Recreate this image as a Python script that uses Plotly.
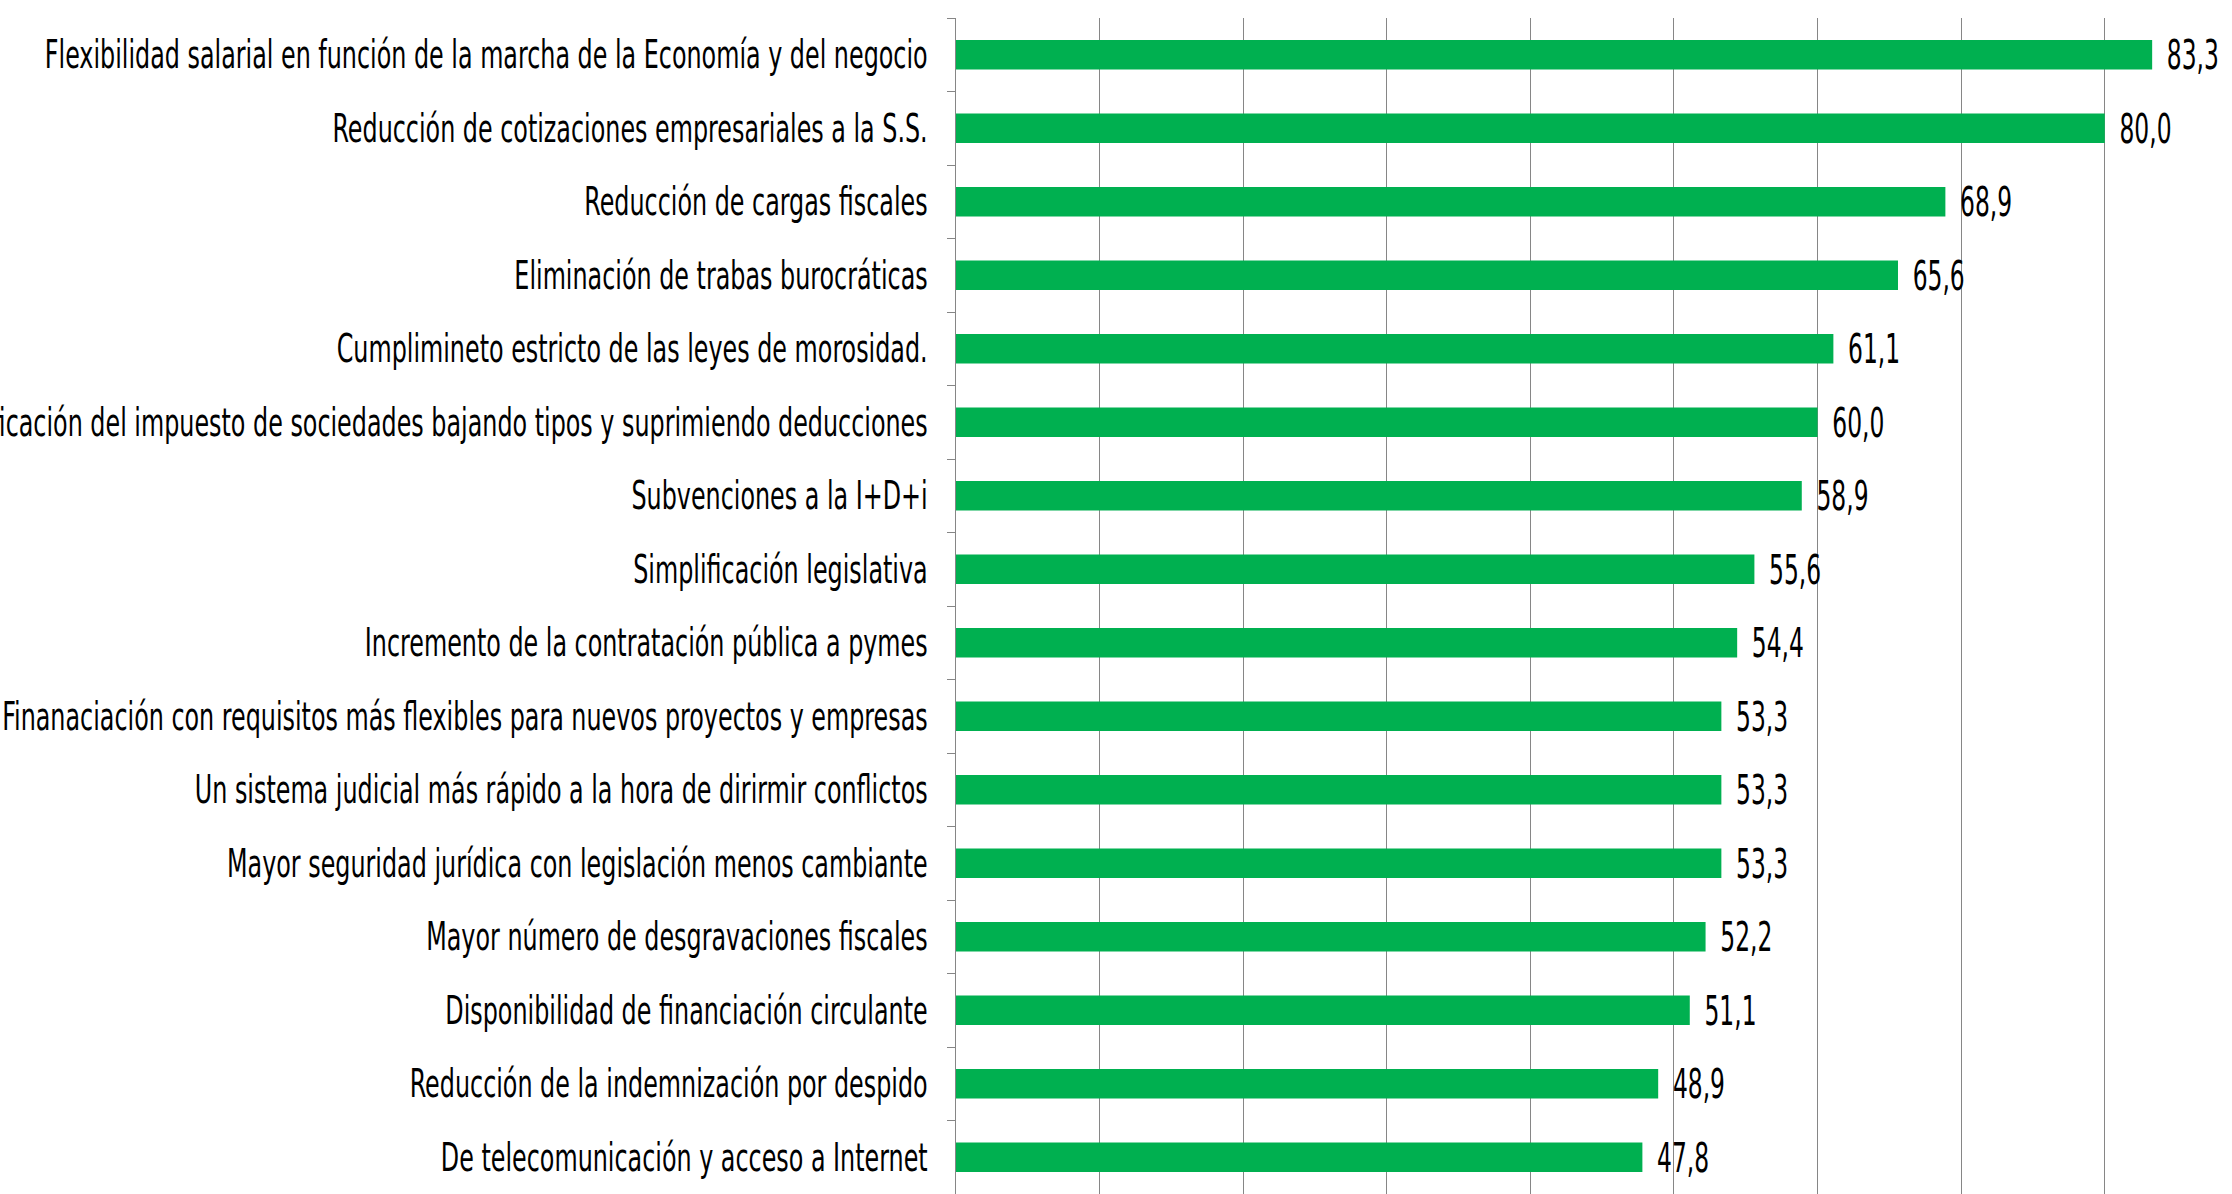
import plotly.graph_objects as go

categories = [
    "Flexibilidad salarial en función de la marcha de la Economía y del negocio",
    "Reducción de cotizaciones empresariales a la S.S.",
    "Reducción de cargas fiscales",
    "Eliminación de trabas burocráticas",
    "Cumplimineto estricto de las leyes de morosidad.",
    "Simplificación del impuesto de sociedades bajando tipos y suprimiendo deducciones",
    "Subvenciones a la I+D+i",
    "Simplificación legislativa",
    "Incremento de la contratación pública a pymes",
    "Finanaciación con requisitos más flexibles para nuevos proyectos y empresas",
    "Un sistema judicial más rápido a la hora de dirirmir conflictos",
    "Mayor seguridad jurídica con legislación menos cambiante",
    "Mayor número de desgravaciones fiscales",
    "Disponibilidad de financiación circulante",
    "Reducción de la indemnización por despido",
    "De telecomunicación y acceso a Internet",
]
values = [83.3, 80.0, 68.9, 65.6, 61.1, 60.0, 58.9, 55.6, 54.4, 53.3, 53.3, 53.3, 52.2, 51.1, 48.9, 47.8]

FONT = "DejaVu Sans Condensed, Liberation Sans Narrow, sans-serif"
GREEN = "#00B050"
GRID = "#868686"

fig = go.Figure(
    go.Bar(
        x=values,
        y=categories,
        orientation="h",
        marker=dict(color=GREEN, line=dict(width=0)),
        texttemplate="\u2002%{x:.1f}",
        textposition="outside",
        textfont=dict(family=FONT, size=26, color="#000000"),
        cliponaxis=False,
        constraintext="none",
    )
)

fig.update_layout(
    width=2232,
    height=1194,
    margin=dict(l=956, r=0, t=18, b=0, autoexpand=False),
    paper_bgcolor="white",
    plot_bgcolor="white",
    bargap=0.6,
    separators=",.",
    showlegend=False,
    font=dict(family=FONT, color="#000000"),
)
fig.update_xaxes(
    range=[0, 88.86],
    dtick=10,
    showgrid=True,
    gridcolor=GRID,
    gridwidth=1,
    zeroline=False,
    showticklabels=False,
    showline=False,
)
fig.update_yaxes(
    autorange="reversed",
    showline=True,
    linecolor=GRID,
    linewidth=1,
    ticks="outside",
    tickson="boundaries",
    ticklen=8,
    tickcolor=GRID,
    ticklabelstandoff=22,
    tickfont=dict(family=FONT, size=26.5, color="#000000"),
    automargin=False,
    showgrid=False,
)

# The reference text is tall and narrow; stretch the real text vertically.
post_js = """
(function(){
  document.body.style.margin = '0';
  var gd = document.getElementById('{plot_id}');
  function stretch(sel, s){
    gd.querySelectorAll(sel).forEach(function(t){
      var cur = t.getAttribute('transform') || '';
      var base = (t.getAttribute('data-tfset') === cur) ? (t.getAttribute('data-tf0') || '') : cur;
      t.setAttribute('data-tf0', base);
      t.setAttribute('transform', base);
      var b = t.getBBox();
      var cy = b.y + b.height / 2;
      var tf = base + ' translate(0,' + cy + ') scale(1,' + s + ') translate(0,' + (-cy) + ')';
      t.setAttribute('transform', tf);
      t.setAttribute('data-tfset', tf);
    });
  }
  function run(){
    stretch('.ytick text', 1.45);
    stretch('.bartext', 1.6);
  }
  run();
  if (gd.on) { gd.on('plotly_afterplot', run); }
})();
"""

fig.write_html("out.html", post_script=post_js, config={"displayModeBar": False})
